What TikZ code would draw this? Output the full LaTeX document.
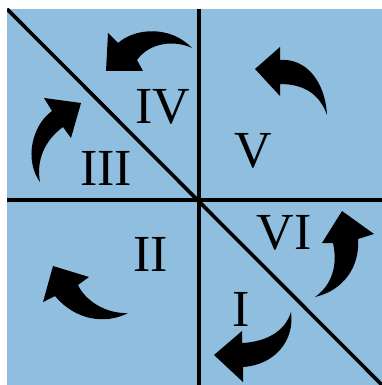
\documentclass[tikz,border=0pt]{standalone}
\usepackage{fontspec}
\setmainfont{Liberation Serif}
\definecolor{panelblue}{RGB}{144,190,223}
\tikzset{
  divider/.style={line width=3.6pt, black},
  curvedarrow/.style={fill=black, draw=none},
  numeral/.style={inner sep=0pt, anchor=base, font=\fontsize{52}{52}\selectfont}
}
\begin{document}
\begin{tikzpicture}[x=1pt,y=-1pt]
\useasboundingbox (0,0) rectangle (382,385);
\fill[panelblue] (7,9) rectangle (382,385);
% dividers
\coordinate (tl) at (7,9);
\coordinate (br) at (382,385);
\coordinate (vt) at (199,9);
\coordinate (vb) at (199,385);
\coordinate (hl) at (7,200);
\coordinate (hr) at (382,200);
\begin{scope}
\clip (7,9) rectangle (382,385);
\draw[divider] (tl) -- (br);
\draw[divider] (vt) -- (vb);
\draw[divider] (hl) -- (hr);
\end{scope}
% arrow IV
\fill[curvedarrow] (106,71) -- (108,33) -- (118,43)
  .. controls (135,28) and (170,25) .. (192,48)
  .. controls (175,40) and (150,42) .. (137,60)
  -- (143,71) -- cycle;
% arrow III
\fill[curvedarrow] (81,103) -- (44,98) -- (52,111)
  .. controls (32,125) and (24,160) .. (40,182)
  .. controls (36,160) and (45,140) .. (63,127)
  -- (71,138) -- cycle;
% arrow V
\fill[curvedarrow] (255,69) -- (280,47) -- (280,60)
  .. controls (305,58) and (325,80) .. (327,115)
  .. controls (320,95) and (305,84) .. (280,84)
  -- (280,96) -- cycle;
% arrow II
\fill[curvedarrow] (53,266) -- (89,277) -- (78,285)
  .. controls (85,300) and (105,314) .. (128,313)
  .. controls (105,325) and (75,320) .. (55,296)
  -- (43,302) -- cycle;
% arrow VI
\fill[curvedarrow] (342,211) -- (374,234) -- (358,239)
  .. controls (360,265) and (345,290) .. (315,297)
  .. controls (332,285) and (338,265) .. (333,243)
  -- (322,243) -- cycle;
% arrow I
\fill[curvedarrow] (214,355) -- (242,331) -- (242,343)
  .. controls (265,342) and (285,332) .. (291,312)
  .. controls (295,340) and (275,365) .. (243,367)
  -- (243,382) -- cycle;
% labels
\node[numeral] (lIV) at (162.5,124) {IV};
\node[numeral] (lIII) at (106,185) {III};
\node[numeral] (lV) at (253.5,167) {V};
\node[numeral] (lII) at (150.5,271) {II};
\node[numeral] (lVI) at (284,249) {VI};
\node[numeral] (lI) at (241.5,326) {I};
\end{tikzpicture}
\end{document}
